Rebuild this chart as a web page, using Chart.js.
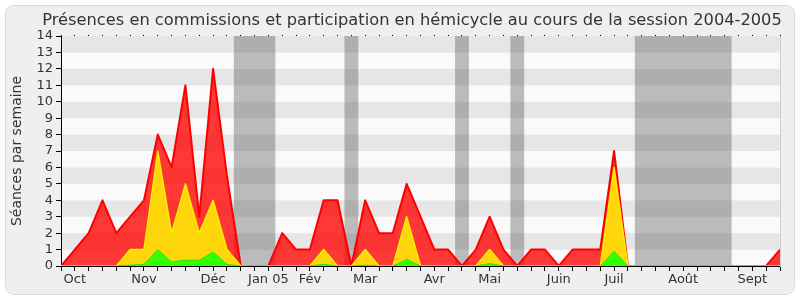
<!DOCTYPE html>
<html>
<head>
<meta charset="utf-8">
<script src="https://cdn.jsdelivr.net/npm/chart.js@4"></script>
<style>
  body { margin: 0; background: #fff; }
  #zone { width: 800px; height: 300px; }
</style>
</head>
<body>
<div id="zone"><canvas id="chartPresences" width="800" height="300"></canvas></div>
<script>
// Semaines de la session (0 = fin septembre 2004)
const moisLabels = ['Oct', 'Nov', 'Déc', 'Jan 05', 'Fév', 'Mar', 'Avr', 'Mai', 'Juin', 'Juil', 'Août', 'Sept'];
const moisSemaines = [1, 6, 11, 15, 18, 22, 27, 31, 36, 40, 45, 50];

// séances par semaine
const presences = [0, 1, 2, 4, 2, 3, 4, 8, 6, 11, 3, 12, 5.5, 0, 0, 0, 2, 1, 1, 4, 4, 0, 4, 2, 2, 5, 3, 1, 1, 0, 1, 3, 1, 0, 1, 1, 0, 1, 1, 1, 7, 0, 0, 0, 0, 0, 0, 0, 0, 0, 0, 0, 1];
const participations = [0, 0, 0, 0, 0, 1, 1, 7, 2, 5, 2, 4, 1, 0, 0, 0, 0, 0, 0, 1, 0, 0, 1, 0, 0, 3, 0, 0, 0, 0, 0, 1, 0, 0, 0, 0, 0, 0, 0, 0, 6, 0, 0, 0, 0, 0, 0, 0, 0, 0, 0, 0, 0];
const interventions = [0, 0, 0, 0, 0, 0.05, 0.1, 1, 0.25, 0.35, 0.35, 0.85, 0.1, 0, 0, 0, 0, 0, 0, 0.1, 0, 0, 0.05, 0, 0, 0.4, 0, 0, 0, 0, 0, 0.15, 0, 0, 0, 0, 0, 0, 0, 0, 0.9, 0, 0, 0, 0, 0, 0, 0, 0, 0, 0, 0, 0];

// vacances parlementaires (en semaines)
const vacances = [[12.5, 15.5], [20.5, 21.5], [28.5, 29.5], [32.5, 33.5], [41.5, 48.5]];

const police = { family: 'DejaVu Sans', size: 13 };

function points(serie) {
    return serie.map((v, i) => ({ x: i, y: v }));
}

const fondPlugin = {
    id: 'fond',
    beforeDraw(chart) {
        const ctx = chart.ctx;
        const { left, right, top, bottom } = chart.chartArea;
        const sx = chart.scales.x;
        const sy = chart.scales.y;
        ctx.save();
        ctx.fillStyle = '#fff';
        ctx.fillRect(0, 0, chart.width, chart.height);
        ctx.beginPath();
        ctx.roundRect(5.5, 5.5, 789, 289, 8);
        ctx.fillStyle = '#efefef';
        ctx.fill();
        ctx.strokeStyle = '#dcdcdc';
        ctx.lineWidth = 1;
        ctx.stroke();

        // bandes horizontales alternées
        for (let n = sy.min; n < sy.max; n++) {
            const y0 = sy.getPixelForValue(n);
            const y1 = sy.getPixelForValue(n + 1);
            ctx.fillStyle = n % 2 ? '#e6e6e6' : '#fafafa';
            ctx.fillRect(left, y1, right - left, y0 - y1);
        }

        // vacances
        ctx.fillStyle = 'rgba(60,60,60,0.33)';
        vacances.forEach(([a, b]) => {
            const xa = sx.getPixelForValue(a);
            const xb = sx.getPixelForValue(b);
            ctx.fillRect(xa, top, xb - xa, bottom - top);
        });
        ctx.restore();
    }
};

new Chart(document.getElementById('chartPresences').getContext('2d'), {
    type: 'line',
    data: {
        datasets: [
            {
                label: 'Interventions',
                data: points(interventions),
                fill: 'origin',
                backgroundColor: '#33ff00',
                borderColor: '#2be800',
                borderWidth: 1,
                borderJoinStyle: 'round',
                pointRadius: 0
            },
            {
                label: 'Participations',
                data: points(participations),
                fill: 'origin',
                backgroundColor: '#ffd50c',
                borderColor: '#ffee00',
                borderWidth: 1.5,
                borderJoinStyle: 'round',
                pointRadius: 0
            },
            {
                label: 'Présences',
                data: points(presences),
                fill: 'origin',
                backgroundColor: 'rgba(255,0,0,0.78)',
                borderColor: '#ff0000',
                borderWidth: 2,
                borderJoinStyle: 'round',
                pointRadius: 0
            }
        ]
    },
    options: {
        responsive: false,
        animation: false,
        layout: { padding: { left: 24, right: 0, top: 0, bottom: 0 } },
        plugins: {
            legend: { display: false },
            tooltip: { enabled: false },
            title: {
                display: true,
                text: 'Présences en commissions et participation en hémicycle au cours de la session 2004-2005',
                font: { family: 'DejaVu Sans', size: 16.25, weight: 'normal' },
                color: '#333',
                padding: { top: 11, bottom: 5.5 }
            }
        },
        scales: {
            x: {
                type: 'linear',
                min: 0,
                max: 52,
                position: 'bottom',
                afterFit: s => { s.height = 34; },
                grid: { drawOnChartArea: false, drawTicks: true, tickLength: 5, color: '#000' },
                border: { display: true, color: '#000' },
                ticks: {
                    stepSize: 1,
                    autoSkip: false,
                    maxRotation: 0,
                    padding: 1,
                    font: police,
                    color: '#333',
                    callback: v => {
                        const k = moisSemaines.indexOf(v);
                        return k >= 0 ? moisLabels[k] : '';
                    }
                }
            },
            xHaut: {
                type: 'linear',
                min: 0,
                max: 52,
                position: 'top',
                afterFit: s => { s.height = 0; },
                grid: { drawOnChartArea: false, drawTicks: true, tickLength: 1, color: '#000' },
                border: { display: false },
                ticks: { display: false, stepSize: 1, autoSkip: false }
            },
            y: {
                min: 0,
                max: 14,
                position: 'left',
                afterFit: s => { s.width = 37; },
                grid: { drawOnChartArea: false, drawTicks: true, tickLength: 5, color: '#000' },
                border: { display: true, color: '#000' },
                ticks: { stepSize: 1, autoSkip: false, padding: 3, font: police, color: '#333' },
                title: {
                    display: true,
                    text: 'Séances par semaine',
                    font: { family: 'DejaVu Sans', size: 14 },
                    color: '#333',
                    padding: { top: -15, bottom: 0 }
                }
            },
            yDroite: {
                position: 'right',
                afterFit: s => { s.width = 20; },
                grid: { display: false },
                ticks: { display: false },
                border: { display: true, color: '#cfcfcf' }
            }
        }
    },
    plugins: [fondPlugin]
});
</script>
</body>
</html>
